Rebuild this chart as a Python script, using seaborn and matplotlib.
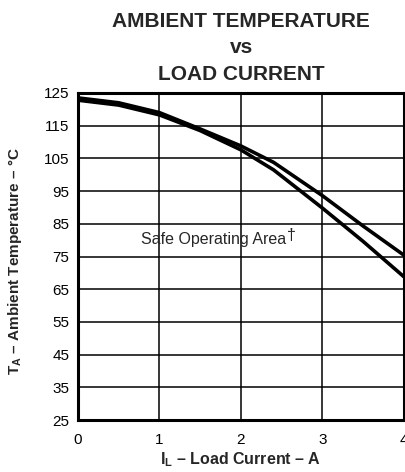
import numpy as np
import pandas as pd
import matplotlib
matplotlib.use("Agg")
import matplotlib.pyplot as plt
import seaborn as sns

# Values
current = [0.0, 0.5, 1.0, 1.5, 2.0, 2.4, 3.0, 3.5, 4.0]
temp_upper = [123.5, 122.0, 119.0, 114.0, 108.8, 103.8, 93.6, 84.3, 75.4]
temp_lower = [122.8, 121.3, 118.3, 113.5, 107.6, 101.5, 89.8, 79.6, 68.8]

xticks = [0, 1, 2, 3, 4]
yticks = [25, 35, 45, 55, 65, 75, 85, 95, 105, 115, 125]

sns.set_style("white")
plt.rcParams['font.family'] = ['Liberation Sans', 'DejaVu Sans']
plt.rcParams['mathtext.fontset'] = 'custom'
plt.rcParams['mathtext.rm'] = 'Liberation Sans'
plt.rcParams['mathtext.bf'] = 'Liberation Sans:bold'

df = pd.DataFrame({
    'I': current * 2,
    'T': temp_upper + temp_lower,
    'curve': ['upper'] * len(current) + ['lower'] * len(current),
})

fig = plt.figure(figsize=(4.06, 4.72), dpi=100)
ax = fig.add_axes([0.192, 0.110, 0.803, 0.693])

sns.lineplot(data=df, x='I', y='T', hue='curve', palette=['black', 'black'],
             linewidth=2.6, legend=False, ax=ax, zorder=3)

ax.set_xlim(0, 4)
ax.set_ylim(25, 125)
ax.set_xticks(xticks)
ax.set_yticks(yticks)
ax.tick_params(axis='both', length=0, labelsize=11, colors='black')
ax.tick_params(axis='x', pad=9)
ax.tick_params(axis='y', pad=6)
ax.grid(True, color='black', linewidth=1.1)
for s in ax.spines.values():
    s.set_linewidth(2.2)
    s.set_color('black')

# annotation inside the plot, dagger raised after it
safe = ax.text(0.77, 80.3, "Safe Operating Area", fontsize=11.5, va='center', ha='left')
ax.annotate("†", xy=(1, 1), xycoords=safe, xytext=(1, 3), textcoords='offset points',
            fontsize=11.5, ha='left', va='top')

ax.set_xlabel(r"I$_\mathbf{L}$ – Load Current – A", fontsize=11.5, fontweight='bold', labelpad=3)
ax.set_ylabel(r"T$_{\mathbf{A}}$ – Ambient Temperature – °C", fontsize=11, fontweight='bold')
ax.yaxis.set_label_coords(-0.165, 0.486)

fig.text(0.594, 1 - 26.7 / 472, "AMBIENT TEMPERATURE", ha='center', va='baseline',
         fontsize=15, fontweight='bold')
fig.text(0.594, 1 - 53.3 / 472, "vs", ha='center', va='baseline',
         fontsize=15, fontweight='bold')
fig.text(0.594, 1 - 80.0 / 472, "LOAD CURRENT", ha='center', va='baseline',
         fontsize=15, fontweight='bold')

fig.savefig("out.png", dpi=100)
